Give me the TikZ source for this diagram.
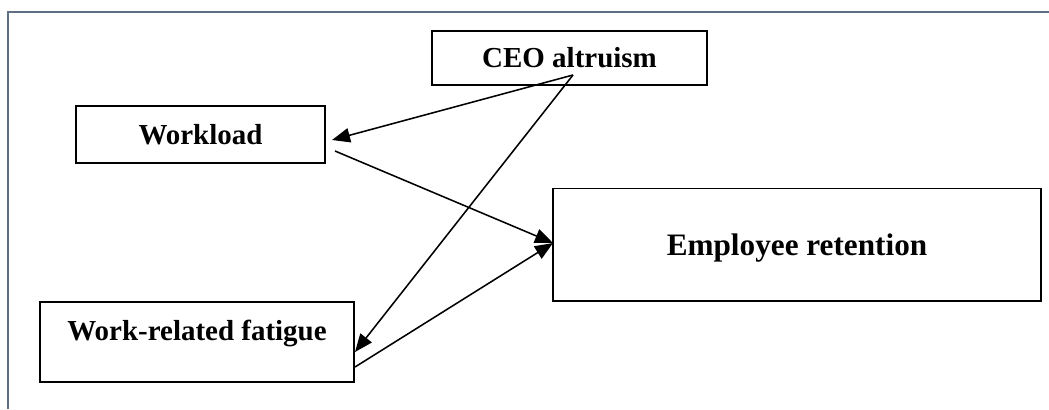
\documentclass[tikz,border=0pt]{standalone}
\usepackage{fontspec}
\setmainfont{Liberation Serif}
\usetikzlibrary{arrows.meta}
\definecolor{framegray}{RGB}{95,112,133}
\tikzset{
    box/.style={draw, line width=1.4pt, inner sep=0pt, font=\bfseries\fontsize{20.6}{24}\selectfont},
    link/.style={line width=1.1pt, -{Triangle[length=0.45cm, width=0.36cm]}}
}
\begin{document}
\begin{tikzpicture}[x=0.025cm, y=-0.025cm] % 1 unit = 1 px of the sketch
    \useasboundingbox (0,0) rectangle (1049,409);

    % frame
    \draw[framegray, line width=1.4pt] (8,409) -- (8,12) -- (1049,12);

    \node[box, minimum width=6.875cm, minimum height=1.35cm] (ceo) at (569.5,58) {CEO altruism};
    \node[box, minimum width=6.225cm, minimum height=1.425cm] (work) at (200.5,134.5) {Workload};
    \node[box, minimum width=12.2cm, minimum height=2.8cm, text depth=0pt,
          font=\bfseries\fontsize{22.2}{26}\selectfont] (ret) at (797,244.5) {Employee retention};
    \node[box, minimum width=7.85cm, minimum height=2cm, text depth=0.6cm] (fat) at (197,342) {Work-related fatigue};

    \coordinate (ceo-out) at (573,75);
    \coordinate (work-in) at (332,140);
    \coordinate (work-out) at (335,151);
    \coordinate (ret-in) at (553,243);
    \coordinate (fat-in) at (355,352);
    \coordinate (fat-out) at (355,367);

    \draw[link] (ceo-out) -- (work-in);
    \draw[link] (ceo-out) -- (fat-in);
    \draw[link] (work-out) -- (ret-in);
    \draw[link] (fat-out) -- (ret-in);
\end{tikzpicture}
\end{document}
